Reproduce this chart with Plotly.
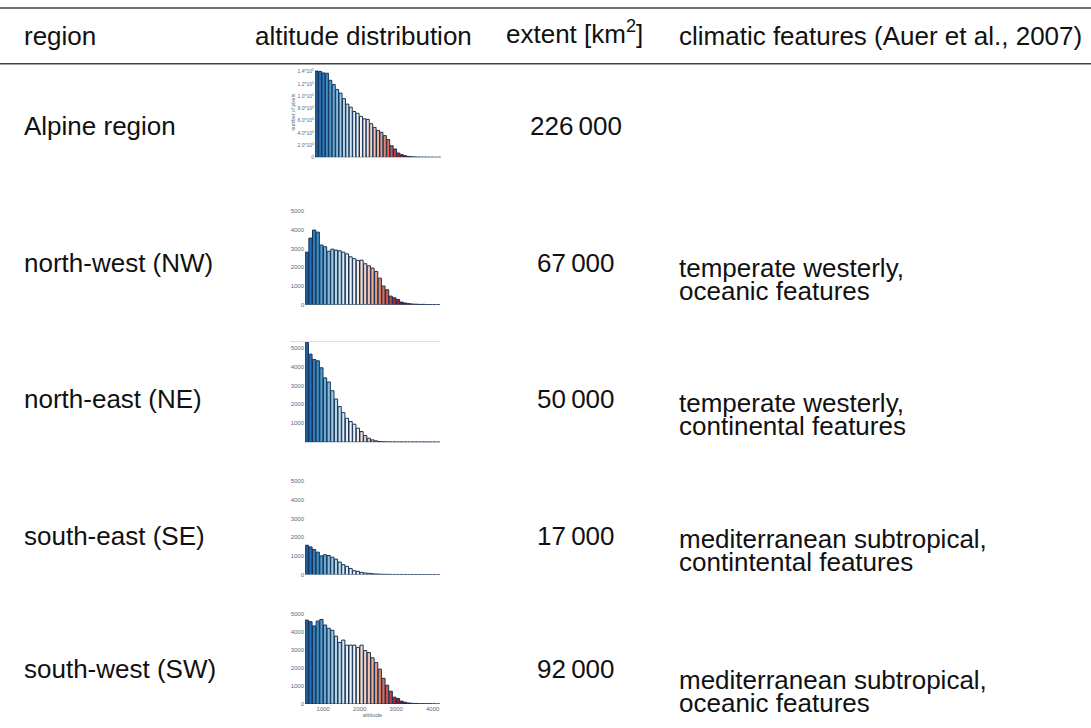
import plotly.graph_objects as go

W, H = 1091, 728

# ---------------- data ----------------
ALT_BINS = [550, 650, 750, 850, 950, 1050, 1150, 1250, 1350, 1450, 1550, 1650,
            1750, 1850, 1950, 2050, 2150, 2250, 2350, 2450, 2550, 2650, 2750,
            2850, 2950, 3050, 3150, 3250, 3350, 3450, 3550, 3650, 3750, 3850,
            3950, 4050, 4150]

ALPINE = [141000, 140500, 138000, 137500, 126000, 119000, 111000, 105000, 96000,
          87000, 82000, 75000, 72000, 67000, 63000, 62000, 55000, 49000, 44000,
          41000, 35500, 29000, 19000, 13700, 7000, 4400, 2700, 1500, 1000, 600,
          400, 300, 300, 200, 200, 100, 100]
NW = [2810, 3560, 3990, 3880, 3190, 3100, 2860, 2970, 2920, 2880, 2810, 2720,
      2560, 2460, 2370, 2380, 2190, 2080, 1960, 1780, 1420, 1000, 800, 460, 370,
      280, 140, 90, 60, 40, 30, 20, 20, 10, 10, 5, 5]
NE = [5280, 4650, 4370, 4300, 3930, 3400, 3180, 2720, 2280, 1880, 1560, 1260,
      1090, 950, 740, 560, 350, 210, 120, 70, 35, 20, 15, 10, 10, 10, 10, 5, 5,
      5, 5, 5, 5, 5, 5, 3, 3]
SE = [1570, 1480, 1340, 1200, 1000, 1060, 1020, 930, 830, 670, 530, 440, 330,
      210, 175, 120, 90, 70, 50, 35, 25, 20, 15, 10, 10, 10, 10, 10, 8, 8, 8, 8,
      6, 6, 5, 5, 3]
SW = [4630, 4545, 4310, 4580, 4670, 4360, 4180, 4070, 3750, 3400, 3530, 3250,
      3250, 3250, 3130, 3250, 2950, 2840, 2550, 2290, 1930, 1420, 1040, 710, 380,
      310, 160, 100, 60, 40, 30, 20, 20, 20, 15, 10, 5]

HEADERS = ["region", "altitude distribution", "extent [km<sup>2</sup>]",
           "climatic features (Auer et al., 2007)"]
REGIONS = ["Alpine region", "north-west (NW)", "north-east (NE)",
           "south-east (SE)", "south-west (SW)"]
EXTENTS = ["226\u2009000", "67\u2009000", "50\u2009000", "17\u2009000", "92\u2009000"]
CLIMATE = [["", ""],
           ["temperate westerly,", "oceanic features"],
           ["temperate westerly,", "continental features"],
           ["mediterranean subtropical,", "contintental features"],
           ["mediterranean subtropical,", "oceanic features"]]

ALP_TICKVALS = [0, 20000, 40000, 60000, 80000, 100000, 120000, 140000]
ALP_TICKTEXT = ["0", "2.0*10<sup>4</sup>", "4.0*10<sup>4</sup>", "6.0*10<sup>4</sup>",
                "8.0*10<sup>4</sup>", "1.0*10<sup>5</sup>", "1.2*10<sup>5</sup>",
                "1.4*10<sup>5</sup>"]
REG_TICKVALS = [0, 1000, 2000, 3000, 4000, 5000]
X_TICKVALS = [1000, 2000, 3000, 4000]

RDBU_REV = [[0.0, "#053061"], [0.1, "#2166ac"], [0.2, "#4393c3"], [0.3, "#92c5de"],
            [0.4, "#d1e5f0"], [0.5, "#f7f7f7"], [0.6, "#fddbc7"], [0.7, "#f4a582"],
            [0.8, "#d6604d"], [0.9, "#b2182b"], [1.0, "#67001f"]]

# ---------------- layout helpers ----------------
def px(x):
    return x / W

def py(y):
    return 1 - y / H

FONT = "Liberation Sans, Arial, Helvetica, sans-serif"
FS = 26
TXT = "#111111"
TICKC = "#5a6a86"
OUTLINE = "#14335a"

fig = go.Figure()

# (data, x-domain px, zero px, top px, y-range top)
panels = [
    (ALPINE, (315, 441), 158, 67.1, 148000),
    (NW, (305, 440), 306, 206.4, 5300),
    (NE, (305, 440), 444, 343.3, 5300),
    (SE, (305, 440), 577, 477.4, 5300),
    (SW, (305, 440), 707, 610.5, 5300),
]

for i, (vals, (x0, x1), zero, top, ytop) in enumerate(panels):
    n = "" if i == 0 else str(i + 1)
    fig.add_trace(go.Bar(
        x=ALT_BINS, y=vals, xaxis="x" + n, yaxis="y" + n,
        marker=dict(color=ALT_BINS, colorscale=RDBU_REV, cmin=300, cmax=3300,
                    line=dict(color=OUTLINE, width=1.0)),
        showlegend=False, hoverinfo="skip"))
    xa = dict(domain=[px(x0), px(x1)], range=[500, 4200], anchor="y" + n,
              showgrid=False, zeroline=False, showline=False, ticks="",
              showticklabels=False, fixedrange=True)
    if i == 4:
        xa.update(showticklabels=True, tickvals=X_TICKVALS,
                  tickfont=dict(size=6, color=TICKC, family=FONT),
                  title=dict(text="altitude", font=dict(size=6, color=TICKC, family=FONT),
                             standoff=1))
    ya = dict(domain=[py(zero), py(top)], range=[0, ytop], anchor="x" + n,
              showgrid=False, zeroline=False, showline=False, ticks="",
              tickfont=dict(size=6 if i else 5, color=TICKC, family=FONT),
              fixedrange=True)
    if i == 0:
        ya.update(tickvals=ALP_TICKVALS, ticktext=ALP_TICKTEXT,
                  title=dict(text="number of pixels",
                             font=dict(size=5, color=TICKC, family=FONT), standoff=1))
    elif i == 2:
        ya.update(tickvals=REG_TICKVALS[1:])
    else:
        ya.update(tickvals=REG_TICKVALS)
    fig.layout["xaxis" + n] = xa
    fig.layout["yaxis" + n] = ya

shapes = [
    dict(type="line", xref="paper", yref="paper", x0=0, x1=1, y0=py(8), y1=py(8),
         line=dict(color="#444444", width=1.5)),
    dict(type="line", xref="paper", yref="paper", x0=0, x1=1, y0=py(64), y1=py(64),
         line=dict(color="#444444", width=1.5)),
    dict(type="line", xref="paper", yref="paper", x0=px(290), x1=px(440),
         y0=py(343), y1=py(343), line=dict(color="#dddddd", width=1)),
]

annotations = []
def txt(x, y, s, anchor="left", size=FS):
    annotations.append(dict(x=px(x), y=py(y), xref="paper", yref="paper", text=s,
                            showarrow=False, xanchor=anchor, yanchor="middle",
                            font=dict(family=FONT, size=size, color=TXT)))

hx = [22, 253, 504, 677]
hy = [36, 36, 33, 36]
for h, x, y in zip(HEADERS, hx, hy):
    txt(x, y, h)

row_y = [127, 264, 401, 538, 672]
clim_y = [(0, 0), (269, 292), (405, 428), (541, 564), (683, 706)]
for r, e, c, y, cy in zip(REGIONS, EXTENTS, CLIMATE, row_y, clim_y):
    txt(22, y, r)
    txt(576, y, e, anchor="center")
    if c[0]:
        txt(677, cy[0], c[0])
        txt(677, cy[1], c[1])

fig.update_layout(width=W, height=H, autosize=False,
                  margin=dict(l=0, r=0, t=0, b=0),
                  paper_bgcolor="white", plot_bgcolor="white",
                  bargap=0.12, shapes=shapes, annotations=annotations)

fig.write_html("out.html")
